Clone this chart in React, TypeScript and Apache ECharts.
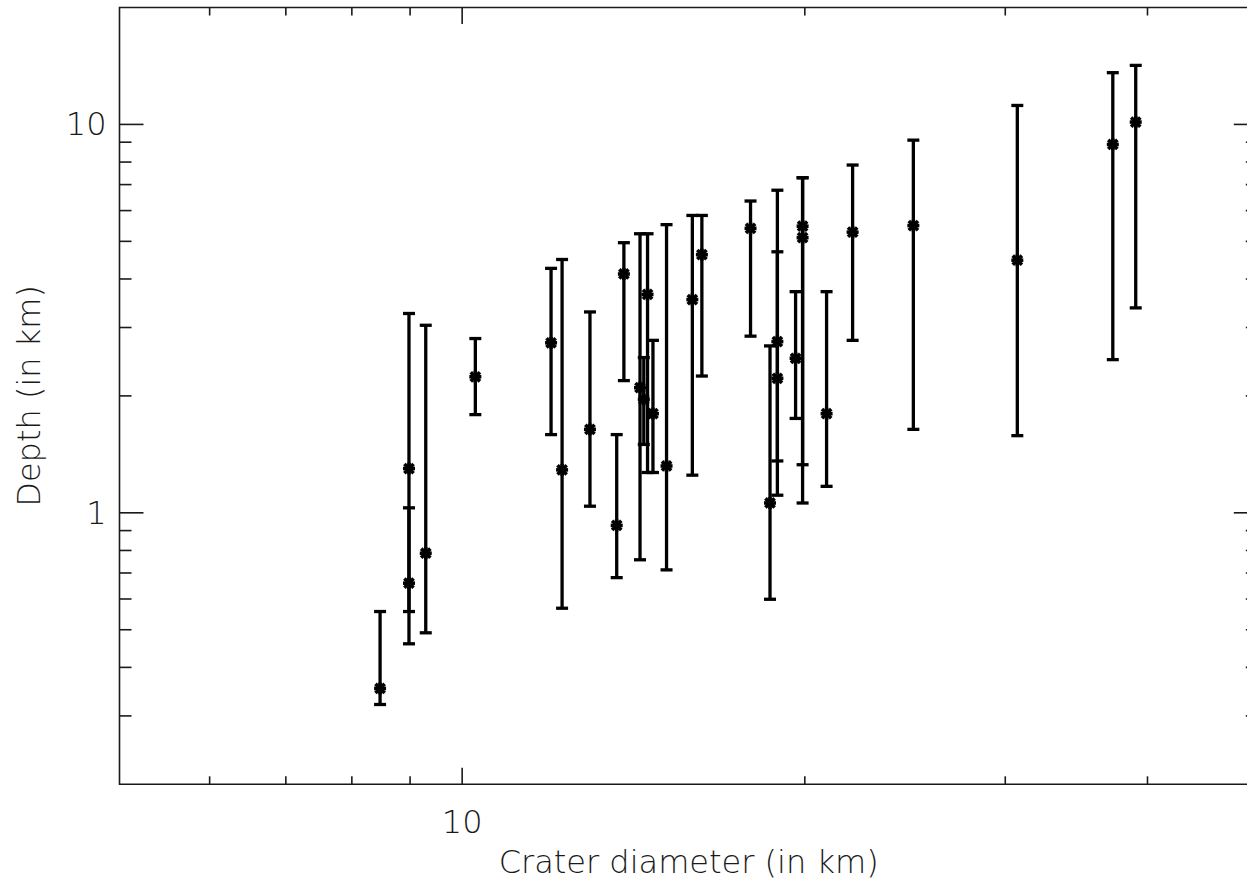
import React, { useEffect, useRef } from "react";
import * as echarts from "echarts";

// Crater diameter (km)
const diameters = [8.47, 8.98, 8.98, 9.29, 10.27, 11.97, 12.24, 12.95, 13.67, 13.87, 14.33, 14.44, 14.55, 14.71, 15.12, 15.93, 16.24, 17.92, 18.64, 18.92, 18.92, 19.63, 19.91, 19.91, 20.9, 22.03, 24.91, 30.74, 37.29, 39.06];
// Depth (km)
const depths = [0.353, 1.3, 0.659, 0.787, 2.24, 2.74, 1.29, 1.64, 0.928, 4.12, 2.1, 1.96, 3.65, 1.8, 1.32, 3.54, 4.62, 5.4, 1.06, 2.76, 2.22, 2.5, 5.47, 5.11, 1.8, 5.28, 5.49, 4.47, 8.88, 10.14];
// Lower end of depth error bar
const depthLow = [0.321, 0.46, 0.557, 0.491, 1.79, 1.59, 0.568, 1.04, 0.681, 2.19, 0.757, 1.5, 1.27, 1.27, 0.713, 1.25, 2.25, 2.85, 0.599, 1.11, 1.36, 1.75, 1.06, 1.33, 1.17, 2.78, 1.64, 1.58, 2.48, 3.37];
// Upper end of depth error bar
const depthHigh = [0.557, 3.26, 1.03, 3.04, 2.81, 4.26, 4.49, 3.29, 1.59, 4.96, 5.23, 2.51, 5.23, 2.78, 5.52, 5.83, 5.83, 6.35, 2.69, 6.77, 4.7, 3.71, 7.29, 7.29, 3.71, 7.86, 9.11, 11.19, 13.59, 14.19];

const xRange = [5, 50];
const yRange = [0.2, 20];
const xMajorTicks = [10];
const xMinorTicks = [6, 7, 8, 9, 20, 30, 40];
const yMajorTicks = [1, 10];
const yMinorTicks = [0.3, 0.4, 0.5, 0.6, 0.7, 0.8, 0.9, 2, 3, 4, 5, 6, 7, 8, 9];
const xLabels = ["10"];
const yLabels = ["1", "10"];

const FONT = "DejaVu Sans";
const AXIS_COLOR = "#1a1a1a";

export default function App() {
  const ref = useRef<HTMLDivElement>(null);

  useEffect(() => {
    if (!ref.current) return;
    const chart = echarts.init(ref.current, undefined, { renderer: "svg" });

    const barData = diameters.map((d, i) => [d, depths[i], depthLow[i], depthHigh[i]]);
    const xTickData = [
      ...xMajorTicks.map((v) => [v, yRange[0], 1]),
      ...xMinorTicks.map((v) => [v, yRange[0], 0]),
    ];
    const yTickData = [
      ...yMajorTicks.map((v) => [xRange[0], v, 1]),
      ...yMinorTicks.map((v) => [xRange[0], v, 0]),
    ];

    const lblFmt = (labels: string[]) => (v: number) => {
      const hit = labels.find((l) => Math.abs(Number(l) - v) < 1e-6 * Math.max(1, v));
      return hit ?? "";
    };

    chart.setOption({
      animation: false,
      backgroundColor: "#fff",
      grid: {
        left: 119.5,
        top: 7.5,
        width: 1138.3,
        height: 776.8,
        show: true,
        borderColor: AXIS_COLOR,
        borderWidth: 1.6,
        backgroundColor: "transparent",
        containLabel: false,
        outerBoundsMode: "none",
      },
      xAxis: {
        type: "log",
        logBase: 10,
        min: xRange[0],
        max: xRange[1],
        axisLine: { show: false },
        axisTick: { show: false },
        splitLine: { show: false },
        axisLabel: {
          formatter: lblFmt(xLabels),
          showMinLabel: false,
          showMaxLabel: false,
          margin: 22,
          fontFamily: FONT,
          fontSize: 32,
          fontWeight: 200,
          color: AXIS_COLOR,
        },
        name: "Crater diameter (in km)",
        nameLocation: "middle",
        nameGap: 62,
        nameTextStyle: { fontFamily: FONT, fontSize: 32, fontWeight: 200, color: AXIS_COLOR },
      },
      yAxis: {
        type: "log",
        logBase: 10,
        min: yRange[0],
        max: yRange[1],
        axisLine: { show: false },
        axisTick: { show: false },
        splitLine: { show: false },
        axisLabel: {
          formatter: lblFmt(yLabels),
          showMinLabel: false,
          showMaxLabel: false,
          margin: 13,
          fontFamily: FONT,
          fontSize: 32,
          fontWeight: 200,
          color: AXIS_COLOR,
        },
        name: "Depth (in km)",
        nameLocation: "middle",
        nameGap: 75,
        nameTextStyle: { fontFamily: FONT, fontSize: 32, fontWeight: 200, color: AXIS_COLOR },
      },
      series: [
        {
          type: "custom",
          name: "xticks",
          data: xTickData,
          encode: { x: 0, y: 1 },
          silent: true,
          clip: false,
          renderItem: (params: any, api: any) => {
            const v = api.value(0);
            const major = api.value(2) === 1;
            const bottom = api.coord([v, yRange[0]]);
            const top = api.coord([v, yRange[1]]);
            const len = major ? 16.5 : 8;
            const style = { stroke: AXIS_COLOR, lineWidth: 1.6 };
            return {
              type: "group",
              children: [
                { type: "line", shape: { x1: bottom[0], y1: bottom[1], x2: bottom[0], y2: bottom[1] - len }, style },
                { type: "line", shape: { x1: top[0], y1: top[1], x2: top[0], y2: top[1] + len }, style },
              ],
            };
          },
        },
        {
          type: "custom",
          name: "yticks",
          data: yTickData,
          encode: { x: 0, y: 1 },
          silent: true,
          clip: false,
          renderItem: (params: any, api: any) => {
            const v = api.value(1);
            const major = api.value(2) === 1;
            const left = api.coord([xRange[0], v]);
            const right = api.coord([xRange[1], v]);
            const len = major ? 24 : 12;
            const style = { stroke: AXIS_COLOR, lineWidth: 1.6 };
            return {
              type: "group",
              children: [
                { type: "line", shape: { x1: left[0], y1: left[1], x2: left[0] + len, y2: left[1] }, style },
                { type: "line", shape: { x1: right[0], y1: right[1], x2: right[0] - len, y2: right[1] }, style },
              ],
            };
          },
        },
        {
          type: "custom",
          name: "depth",
          data: barData,
          encode: { x: 0, y: [1, 2, 3] },
          clip: false,
          renderItem: (params: any, api: any) => {
            const x = api.value(0);
            const c = api.coord([x, api.value(1)]);
            const lo = api.coord([x, api.value(2)]);
            const hi = api.coord([x, api.value(3)]);
            const cap = 6;
            const s = 6;
            const d = 4.6;
            const style = { stroke: "#000", lineWidth: 3.3 };
            const star = { stroke: "#000", lineWidth: 3.6 };
            return {
              type: "group",
              children: [
                { type: "line", shape: { x1: c[0], y1: hi[1], x2: c[0], y2: lo[1] }, style },
                { type: "line", shape: { x1: c[0] - cap, y1: hi[1], x2: c[0] + cap, y2: hi[1] }, style },
                { type: "line", shape: { x1: c[0] - cap, y1: lo[1], x2: c[0] + cap, y2: lo[1] }, style },
                { type: "circle", shape: { cx: c[0], cy: c[1], r: 3.5 }, style: { fill: "#000" } },
                { type: "line", shape: { x1: c[0] - s, y1: c[1], x2: c[0] + s, y2: c[1] }, style: star },
                { type: "line", shape: { x1: c[0], y1: c[1] - s, x2: c[0], y2: c[1] + s }, style: star },
                { type: "line", shape: { x1: c[0] - d, y1: c[1] - d, x2: c[0] + d, y2: c[1] + d }, style: star },
                { type: "line", shape: { x1: c[0] - d, y1: c[1] + d, x2: c[0] + d, y2: c[1] - d }, style: star },
              ],
            };
          },
        },
      ],
    });

    return () => chart.dispose();
  }, []);

  return (
    <div
      ref={ref}
      style={{ position: "fixed", left: 0, top: 0, width: 1247, height: 885, background: "#fff" }}
    />
  );
}
